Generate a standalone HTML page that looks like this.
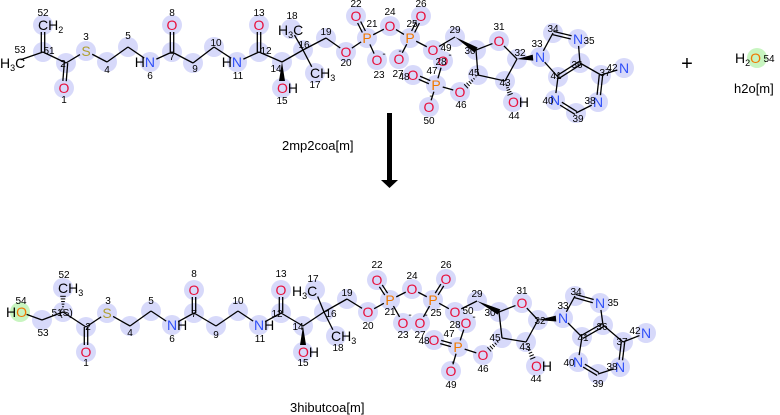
<!DOCTYPE html>
<html><head><meta charset="utf-8"><style>
html,body{margin:0;padding:0;background:#fff;width:780px;height:415px;overflow:hidden}
svg{display:block}
text{font-family:"Liberation Sans","DejaVu Sans",sans-serif}
.l{font-size:14px}
.n{font-size:10px;fill:#000;text-anchor:middle}
.O{fill:#e8103c}.N{fill:#3050f8}.S{fill:#b0a030}.P{fill:#f07800}.K{fill:#000}
.s{font-size:9px}
</style></head><body>
<svg id="sv" width="780" height="415" viewBox="0 0 780 415" xmlns="http://www.w3.org/2000/svg">
<g id="circ"></g>
<g id="bonds" stroke="#000" stroke-width="1.3" fill="#000"></g>
<g id="labels">
<text class="l" x="38" y="30"><tspan class="K">CH</tspan><tspan class="K s" dy="3">2</tspan></text>
<text class="l" x="0" y="68"><tspan class="K">H</tspan><tspan class="K s" dy="3">3</tspan><tspan class="K" dy="-3">C</tspan></text>
<text class="l O" x="64" y="93" text-anchor="middle">O</text>
<text class="l S" x="86" y="56" text-anchor="middle">S</text>
<text class="l" x="155" y="67" text-anchor="end"><tspan class="K">H</tspan><tspan class="N">N</tspan></text>
<text class="l O" x="172" y="30" text-anchor="middle">O</text>
<text class="l" x="242" y="67" text-anchor="end"><tspan class="K">H</tspan><tspan class="N">N</tspan></text>
<text class="l O" x="259" y="30" text-anchor="middle">O</text>
<text class="l" x="277" y="93"><tspan class="O">O</tspan><tspan class="K">H</tspan></text>
<text class="l" x="278" y="35"><tspan class="K">H</tspan><tspan class="K s" dy="3">3</tspan><tspan class="K" dy="-3">C</tspan></text>
<text class="l" x="310" y="78"><tspan class="K">CH</tspan><tspan class="K s" dy="3">3</tspan></text>
<text class="l O" x="346" y="57" text-anchor="middle">O</text>
<text class="l P" x="367" y="43" text-anchor="middle">P</text>
<text class="l O" x="356" y="21" text-anchor="middle">O</text>
<text class="l O" x="377" y="65" text-anchor="middle">O</text><text class="n" x="384" y="57">-</text>
<text class="l O" x="390" y="31" text-anchor="middle">O</text>
<text class="l P" x="410" y="43" text-anchor="middle">P</text>
<text class="l O" x="421" y="21" text-anchor="middle">O</text>
<text class="l O" x="399" y="64" text-anchor="middle">O</text><text class="n" x="400" y="54">-</text>
<text class="l O" x="433" y="55" text-anchor="middle">O</text>
<text class="l O" x="499" y="46" text-anchor="middle">O</text>
<text class="l N" x="540" y="62" text-anchor="middle">N</text>
<text class="l N" x="578" y="44" text-anchor="middle">N</text>
<text class="l N" x="624" y="73" text-anchor="middle">N</text>
<text class="l N" x="555" y="105" text-anchor="middle">N</text>
<text class="l N" x="598" y="107" text-anchor="middle">N</text>
<text class="l" x="508" y="107"><tspan class="O">O</tspan><tspan class="K">H</tspan></text>
<text class="l O" x="460" y="97" text-anchor="middle">O</text>
<text class="l P" x="436" y="90" text-anchor="middle">P</text>
<text class="l O" x="413" y="80" text-anchor="middle">O</text>
<text class="l O" x="443" y="66" text-anchor="middle">O</text><text class="n" x="450" y="58">-</text>
<text class="l O" x="429" y="112" text-anchor="middle">O</text><text class="n" x="431" y="99">-</text>
<text x="687" y="70" font-size="20" text-anchor="middle" fill="#000">+</text>
<circle cx="757" cy="58" r="10" fill="#c8f5c0"/>
<text class="l" x="735" y="63"><tspan class="K">H</tspan><tspan class="K s" dy="3">2</tspan><tspan class="P" dy="-3">O</tspan></text>
<text class="n" x="769" y="62">54</text>
<text x="734" y="93" font-size="13" fill="#000">h2o[m]</text>
<rect x="387" y="113" width="5" height="68" fill="#000"/>
<polygon points="381,180 398,180 389.5,188" fill="#000"/>
<text x="282" y="150" font-size="13" fill="#000">2mp2coa[m]</text>
<text class="l" x="6" y="317"><tspan class="K">H</tspan><tspan class="P">O</tspan></text>
<text class="l" x="58" y="293"><tspan class="K">CH</tspan><tspan class="K s" dy="3">3</tspan></text>
<text class="l O" x="86" y="357" text-anchor="middle">O</text>
<text class="l S" x="107" y="318" text-anchor="middle">S</text>
<text class="l" x="167" y="330"><tspan class="N">N</tspan><tspan class="K">H</tspan></text>
<text class="l O" x="194" y="295" text-anchor="middle">O</text>
<text class="l" x="254" y="330"><tspan class="N">N</tspan><tspan class="K">H</tspan></text>
<text class="l O" x="281" y="295" text-anchor="middle">O</text>
<text class="l" x="298" y="357"><tspan class="O">O</tspan><tspan class="K">H</tspan></text>
<text class="l" x="292" y="296"><tspan class="K">H</tspan><tspan class="K s" dy="3">3</tspan><tspan class="K" dy="-3">C</tspan></text>
<text class="l" x="331" y="341"><tspan class="K">CH</tspan><tspan class="K s" dy="3">3</tspan></text>
<text class="l O" x="368" y="317" text-anchor="middle">O</text>
<text class="l P" x="390" y="305" text-anchor="middle">P</text>
<text class="l O" x="377" y="285" text-anchor="middle">O</text>
<text class="l O" x="403" y="328" text-anchor="middle">O</text><text class="n" x="410" y="318">-</text>
<text class="l O" x="412" y="294" text-anchor="middle">O</text>
<text class="l P" x="433" y="305" text-anchor="middle">P</text>
<text class="l O" x="446" y="284" text-anchor="middle">O</text>
<text class="l O" x="420" y="328" text-anchor="middle">O</text><text class="n" x="426" y="318">-</text>
<text class="l O" x="455" y="317" text-anchor="middle">O</text>
<text class="l O" x="522" y="308" text-anchor="middle">O</text>
<text class="l N" x="563" y="323" text-anchor="middle">N</text>
<text class="l N" x="600" y="308" text-anchor="middle">N</text>
<text class="l N" x="646" y="338" text-anchor="middle">N</text>
<text class="l N" x="578" y="367" text-anchor="middle">N</text>
<text class="l N" x="620" y="372" text-anchor="middle">N</text>
<text class="l" x="531" y="371"><tspan class="O">O</tspan><tspan class="K">H</tspan></text>
<text class="l O" x="483" y="360" text-anchor="middle">O</text>
<text class="l P" x="458" y="352" text-anchor="middle">P</text>
<text class="l O" x="434" y="345" text-anchor="middle">O</text>
<text class="l O" x="466" y="328" text-anchor="middle">O</text><text class="n" x="474" y="320">-</text>
<text class="l O" x="451" y="376" text-anchor="middle">O</text><text class="n" x="453" y="365">-</text>
<text x="290" y="412" font-size="13" fill="#000">3hibutcoa[m]</text>
<g>
<text class="n" x="43" y="16">52</text><text class="n" x="20" y="53">53</text><text class="n" x="49" y="54">51</text><text class="n" x="63" y="67">2</text><text class="n" x="64" y="103">1</text><text class="n" x="86" y="40">3</text><text class="n" x="107" y="73">4</text><text class="n" x="128" y="39">5</text><text class="n" x="150" y="79">6</text><text class="n" x="172" y="60">7</text><text class="n" x="172" y="16">8</text><text class="n" x="195" y="72">9</text><text class="n" x="216" y="46">10</text><text class="n" x="238" y="79">11</text><text class="n" x="266" y="54">12</text><text class="n" x="259" y="16">13</text><text class="n" x="276" y="72">14</text><text class="n" x="282" y="104">15</text><text class="n" x="304" y="48">16</text><text class="n" x="292" y="19">18</text><text class="n" x="315" y="88">17</text><text class="n" x="326" y="35">19</text><text class="n" x="346" y="66">20</text><text class="n" x="372" y="27">21</text><text class="n" x="356" y="7">22</text><text class="n" x="379" y="78">23</text><text class="n" x="390" y="15">24</text><text class="n" x="412" y="27">25</text><text class="n" x="421" y="7">26</text><text class="n" x="398" y="77">27</text><text class="n" x="446" y="51">49</text><text class="n" x="455" y="33">29</text><text class="n" x="470" y="54">30</text><text class="n" x="499" y="30">31</text><text class="n" x="520" y="56">32</text><text class="n" x="537" y="47">33</text><text class="n" x="553" y="32">34</text><text class="n" x="589" y="44">35</text><text class="n" x="577" y="68">36</text><text class="n" x="605" y="76">37</text><text class="n" x="612" y="71">42</text><text class="n" x="556" y="79">41</text><text class="n" x="548" y="104">40</text><text class="n" x="578" y="122">39</text><text class="n" x="590" y="104">38</text><text class="n" x="474" y="76">45</text><text class="n" x="505" y="86">43</text><text class="n" x="514" y="119">44</text><text class="n" x="461" y="108">46</text><text class="n" x="432" y="74">47</text><text class="n" x="404" y="80">48</text><text class="n" x="441" y="65">28</text><text class="n" x="429" y="124">50</text>
</g>
<g>
<text class="n" x="21" y="304">54</text><text class="n" x="43" y="336">53</text><text class="n" x="57" y="316">51</text><text class="n" x="66" y="316">(S)</text><text class="n" x="64" y="278">52</text><text class="n" x="88" y="330">2</text><text class="n" x="86" y="366">1</text><text class="n" x="108" y="304">3</text><text class="n" x="130" y="336">4</text><text class="n" x="151" y="304">5</text><text class="n" x="172" y="342">6</text><text class="n" x="194" y="317">7</text><text class="n" x="194" y="277">8</text><text class="n" x="216" y="338">9</text><text class="n" x="238" y="304">10</text><text class="n" x="260" y="342">11</text><text class="n" x="277" y="317">12</text><text class="n" x="281" y="277">13</text><text class="n" x="298" y="330">14</text><text class="n" x="303" y="366">15</text><text class="n" x="331" y="317">16</text><text class="n" x="313" y="282">17</text><text class="n" x="338" y="351">18</text><text class="n" x="347" y="296">19</text><text class="n" x="368" y="329">20</text><text class="n" x="390" y="315">21</text><text class="n" x="377" y="268">22</text><text class="n" x="403" y="338">23</text><text class="n" x="412" y="279">24</text><text class="n" x="436" y="316">25</text><text class="n" x="446" y="268">26</text><text class="n" x="420" y="338">27</text><text class="n" x="468" y="314">50</text><text class="n" x="477" y="297">29</text><text class="n" x="490" y="316">30</text><text class="n" x="522" y="294">31</text><text class="n" x="540" y="324">32</text><text class="n" x="563" y="309">33</text><text class="n" x="576" y="295">34</text><text class="n" x="613" y="306">35</text><text class="n" x="602" y="330">36</text><text class="n" x="622" y="345">37</text><text class="n" x="635" y="334">42</text><text class="n" x="583" y="341">41</text><text class="n" x="569" y="366">40</text><text class="n" x="598" y="387">39</text><text class="n" x="612" y="370">38</text><text class="n" x="495" y="341">45</text><text class="n" x="525" y="350">43</text><text class="n" x="536" y="382">44</text><text class="n" x="483" y="372">46</text><text class="n" x="449" y="337">47</text><text class="n" x="424" y="344">48</text><text class="n" x="455" y="328">28</text><text class="n" x="451" y="388">49</text>
</g>
</g>
</svg>
<script>
(function(){
var NS="http://www.w3.org/2000/svg";
var T={52:[43,25,1],51:[43,52],53:[14,62,1],2:[66,63],1:[64,88,1],3:[86,51,1],4:[107,62],5:[128,47],6:[150,62,1],7:[172,52],8:[172,25,1],9:[193,63],10:[214,47],11:[237,62,1],12:[259,52],13:[259,25,1],14:[282,62],15:[282,88,1],16:[303,50],18:[291,29,1],17:[315,73,1],19:[326,38],20:[346,52,1],21:[367,38,1],22:[356,16,1],23:[377,60,1],24:[390,26,1],25:[410,38,1],26:[421,16,1],27:[399,59,1],49:[433,50,1],29:[455,37],30:[476,50],31:[499,41,1],32:[517,59],33:[540,57,1],34:[553,33],35:[578,39,1],36:[580,63],37:[601,75],42:[624,68,1],41:[558,77],40:[555,100,1],39:[576,113],38:[598,102,1],45:[478,75],43:[505,81],44:[513,102,1],46:[460,92,1],47:[436,85,1],48:[413,75,1],28:[443,61,1],50:[429,107,1]};
var B={54:[20,312,1],53:[42,320],51:[63,312],52:[63,288,1],2:[86,327],1:[86,352,1],3:[107,313,1],4:[130,326],5:[151,311],6:[172,325,1],7:[194,313],8:[194,290,1],9:[216,326],10:[238,311],11:[259,325,1],12:[281,313],13:[281,290,1],14:[303,326],15:[303,352,1],16:[324,312],17:[315,290,1],18:[336,336,1],19:[347,299],20:[368,312,1],21:[390,300,1],22:[377,280,1],23:[403,323,1],24:[412,289,1],25:[433,300,1],26:[446,279,1],27:[420,323,1],50:[455,312,1],29:[477,301],30:[499,312],31:[522,303,1],32:[538,320],33:[563,318,1],34:[575,296],35:[600,303,1],36:[603,325],37:[623,342],42:[646,333,1],41:[582,337],40:[578,362,1],39:[598,374],38:[620,367,1],45:[502,338],43:[526,342],44:[536,366,1],46:[483,355,1],47:[458,347,1],48:[434,340,1],28:[466,323,1],49:[451,371,1]};
var common="2=1,2-3,3-4,4-5,5-6,6-7,7=8,7-9,9-10,10-11,11-12,12=13,12-14,14w15,14-16,16-17,16-18,16-19,19-20,20-21,21=22,21-23,21-24,24-25,25=26,25-27,29w30,30-31,31-32,32-43,43-45,45-30,32w33,43h44,45h46,46-47,47=48,47-28,33-34,34=35,35-36,41-33,36-37,37-42,37=38,38-39,39=40,40-41,41=36";
var tb=common+",53-51,51=52,51-2,25-49,49-29,47-50";
var bb=common+",54-53,53-51,51h52,51-2,25-50,50-29,47-49";
var gc=document.getElementById("circ"),gb=document.getElementById("bonds");
function el(n,a,p){var e=document.createElementNS(NS,n);for(var k in a)e.setAttribute(k,a[k]);p.appendChild(e);return e;}
function draw(A,bs,skip){
 for(var k in A){ if(skip&&skip.indexOf(+k)>=0)continue; el("circle",{cx:A[k][0],cy:A[k][1],r:10,fill:"#d7d9fa"},gc);}
 bs.split(",").forEach(function(s){
  var m=s.match(/(\d+)([-=wh])(\d+)/);var a=A[m[1]],b=A[m[3]],t=m[2];
  var x1=a[0],y1=a[1],x2=b[0],y2=b[1],dx=x2-x1,dy=y2-y1,L=Math.sqrt(dx*dx+dy*dy),ux=dx/L,uy=dy/L;
  if(a[2]){x1+=ux*7;y1+=uy*7;} if(b[2]){x2-=ux*7;y2-=uy*7;}
  var px=-uy,py=ux;
  if(t=="-")el("line",{x1:x1,y1:y1,x2:x2,y2:y2},gb);
  else if(t=="="){el("line",{x1:x1+px*1.7,y1:y1+py*1.7,x2:x2+px*1.7,y2:y2+py*1.7},gb);el("line",{x1:x1-px*1.7,y1:y1-py*1.7,x2:x2-px*1.7,y2:y2-py*1.7},gb);}
  else if(t=="w")el("polygon",{points:x1+","+y1+" "+(x2+px*3)+","+(y2+py*3)+" "+(x2-px*3)+","+(y2-py*3),stroke:"none"},gb);
  else{for(var i=1;i<=6;i++){var f=i/6.5,w=3*f,cx=x1+(x2-x1)*f,cy=y1+(y2-y1)*f;el("line",{x1:cx+px*w,y1:cy+py*w,x2:cx-px*w,y2:cy-py*w,"stroke-width":1},gb);}}
 });
}
draw(T,tb,[53]);
draw(B,bb,[54]);
el("circle",{cx:20,cy:312,r:10,fill:"#c8f5c0"},gc);
})();
</script>
</body></html>
